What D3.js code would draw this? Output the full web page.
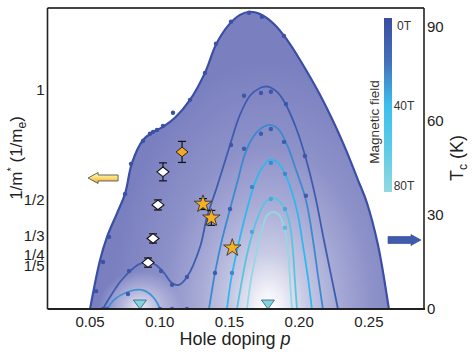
<!DOCTYPE html>
<html><head><meta charset="utf-8">
<script src="https://cdn.jsdelivr.net/npm/d3@7"></script>
<style>
body{margin:0;background:#fff}
svg{display:block;font-family:Arial,"Liberation Sans",Helvetica,sans-serif}
</style>
</head><body>
<svg id="chart" width="472" height="355"></svg>
<script>
// ---------------- data ----------------
const xTicks = [0.05, 0.10, 0.15, 0.20, 0.25];
const xTickLabels = ["0.05", "0.10", "0.15", "0.20", "0.25"];
const tcTicks = [0, 30, 60, 90];
const tcTickLabels = ["0", "30", "60", "90"];
const massTicks = [1/5, 1/4, 1/3, 1/2, 1];
const massTickLabels = ["1/5", "1/4", "1/3", "1/2", "1"];
const fieldLabels = ["0T", "40T", "80T"];
const fieldFractions = [0, 0.5, 1];

// Tc(p) domes, [p, Tc (K)]
const dome0T = [[0.0500,0],[0.0572,15.6],[0.0622,23.0],[0.0694,30.6],[0.0751,36.7],[0.0801,46.6],[0.0880,53.9],[0.0944,56.2],[0.1023,58.1],[0.1109,61.0],[0.1217,66.7],[0.1324,75.3],[0.1403,84.3],[0.1489,90.3],[0.1575,93.8],[0.1647,94.8],[0.1733,93.8],[0.1826,90.6],[0.1912,85.9],[0.2005,79.5],[0.2149,68.3],[0.2314,53.0],[0.2421,41.2],[0.2486,33.8],[0.2565,20.4],[0.2643,0]];
const dots0T = [[0.0543,5.7],[0.0593,15.0],[0.0636,23.0],[0.0751,36.7],[0.0794,46.3],[0.0880,53.6],[0.0930,55.9],[0.0952,56.5],[0.0980,57.1],[0.1023,58.4],[0.1095,62.6],[0.1217,66.7],[0.1324,75.3],[0.1403,84.6],[0.1511,91.6],[0.1640,94.5],[0.1733,93.2],[0.1891,87.1]];

const domeB = [[0.0593,0],[0.0643,3.8],[0.0715,8.6],[0.0787,12.1],[0.0858,14.4],[0.0916,15.0],[0.0973,14.0],[0.1030,11.5],[0.1088,8.3],[0.1138,7.7],[0.1195,10.2],[0.1289,19.8],[0.1339,29.4],[0.1410,38.9],[0.1504,52.3],[0.1575,61.9],[0.1647,68.0],[0.1719,70.5],[0.1776,70.9],[0.1848,68.9],[0.1912,64.5],[0.1977,57.8],[0.2041,49.1],[0.2113,36.4],[0.2177,22.0],[0.2228,10.9],[0.2278,0]];
const dotsB = [[0.0593,0],[0.0780,12.1],[0.1009,12.1],[0.1088,7.7],[0.1195,10.2],[0.1511,52.3],[0.1604,68.0],[0.1726,68.9],[0.1797,69.3],[0.1905,65.4],[0.2041,48.8]];

const domeCLeft = [[0.0622,0],[0.0679,3.2],[0.0751,5.1],[0.0823,6.1],[0.0873,6.1],[0.0930,4.8],[0.0973,2.6],[0.1002,0]];
const domeCRight = [[0.1353,0],[0.1375,6.1],[0.1396,11.5],[0.1446,22.0],[0.1504,31.9],[0.1561,41.2],[0.1604,48.5],[0.1661,54.3],[0.1733,57.8],[0.1790,58.7],[0.1855,57.1],[0.1919,51.7],[0.1977,44.4],[0.2048,34.8],[0.2099,22.0],[0.2134,10.9],[0.2170,0]];
const dotsC = [[0.0622,0],[0.0772,4.8],[0.1002,0],[0.1088,0],[0.1195,0],[0.1396,11.5],[0.1504,31.9],[0.1604,51.1],[0.1726,55.9],[0.1797,57.4],[0.1891,53.3],[0.2048,36.1]];

const domeD = [[0.1482,0],[0.1511,9.3],[0.1547,17.2],[0.1597,26.8],[0.1661,37.3],[0.1719,44.0],[0.1790,47.6],[0.1848,46.6],[0.1898,43.1],[0.1948,37.3],[0.1991,30.0],[0.2027,20.4],[0.2063,9.9],[0.2091,0]];
const dotsD = [[0.1661,38.9],[0.1518,11.5],[0.1797,46.6],[0.1898,43.1]];

const domeE = [[0.1554,0],[0.1590,9.3],[0.1625,17.2],[0.1668,24.6],[0.1719,31.0],[0.1761,34.2],[0.1805,35.4],[0.1855,34.5],[0.1898,31.9],[0.1934,26.8],[0.1955,18.8],[0.1969,9.3],[0.1984,0]];
const dotsE = [[0.1797,35.1],[0.1898,31.9],[0.1661,24.6]];

const domeF = [[0.1625,0],[0.1654,9.3],[0.1690,17.2],[0.1733,25.2],[0.1769,29.7],[0.1812,31.0],[0.1855,30.0],[0.1891,26.2],[0.1919,18.8],[0.1934,9.3],[0.1948,0]];
const dotsF = [[0.1898,25.9]];

// 1/m* markers
const diamondP = [0.0916, 0.0952, 0.0987, 0.1023];
const diamondV = [0.212, 0.322, 0.475, 0.626];
const diamondErr = [0.021, 0.021, 0.023, 0.041];
const orangeP = [0.116];
const orangeV = [0.717];
const orangeErr = [0.048];
const starP = [0.131, 0.137, 0.152];
const starV = [0.479, 0.416, 0.279];
const starErr = [0.025, 0.034, 0];
const triangleP = [0.0858, 0.1776];

// ---------------- layout ----------------
const svg = d3.select("#chart");
const L = 47.5, R = 424, T = 8, B = 309;
const x = d3.scaleLinear().domain([0.0195, 0.2895]).range([L, R]);
const yT = d3.scaleLinear().domain([0, 96]).range([B, T]);
const yM = d3.scaleLinear().domain([0, 1.374]).range([B, T]);

const defs = svg.append("defs");
// glow gradients
const gcx = x(0.178), gcy = yT(0) + 3;
const g1 = defs.append("radialGradient").attr("id","glow")
  .attr("gradientUnits","userSpaceOnUse").attr("cx",0).attr("cy",0).attr("r",1)
  .attr("gradientTransform",`translate(${gcx},${gcy}) scale(165,265)`);
[[0,1],[0.05,0.96],[0.23,0.58],[0.42,0.34],[0.62,0.15],[0.95,0]].forEach(s=>
  g1.append("stop").attr("offset",s[0]).attr("stop-color","#fff").attr("stop-opacity",s[1]));
const g2 = defs.append("radialGradient").attr("id","glow2")
  .attr("gradientUnits","userSpaceOnUse").attr("cx",0).attr("cy",0).attr("r",1)
  .attr("gradientTransform",`translate(${x(0.0858)},${yT(0)}) scale(42,38)`);
[[0,0.85],[0.4,0.45],[1,0]].forEach(s=>
  g2.append("stop").attr("offset",s[0]).attr("stop-color","#fff").attr("stop-opacity",s[1]));
// colorbar gradient
const cb = defs.append("linearGradient").attr("id","cbar").attr("x1",0).attr("y1",0).attr("x2",0).attr("y2",1);
[[0,"#3a4d9f"],[0.25,"#4470bb"],[0.5,"#3bbfee"],[0.75,"#5ccbe6"],[1,"#93d8e2"]].forEach(s=>
  cb.append("stop").attr("offset",s[0]).attr("stop-color",s[1]));
// yellow arrow gradient
const ya = defs.append("linearGradient").attr("id","yarrow").attr("x1",0).attr("y1",0).attr("x2",0).attr("y2",1);
[[0,"#fff6c8"],[0.45,"#fde07a"],[1,"#eda52a"]].forEach(s=>
  ya.append("stop").attr("offset",s[0]).attr("stop-color",s[1]));
defs.append("clipPath").attr("id","plotclip").append("rect").attr("x",L).attr("y",T).attr("width",R-L).attr("height",B-T);

const line = d3.line().x(d=>x(d[0])).y(d=>yT(d[1])).curve(d3.curveCatmullRom.alpha(0.5));

const plot = svg.append("g").attr("clip-path","url(#plotclip)");
const domePath = line(dome0T) + "Z";
plot.append("path").attr("d",domePath).attr("fill","#7a7fc0");
plot.append("path").attr("d",domePath).attr("fill","url(#glow)");
plot.append("path").attr("d",domePath).attr("fill","url(#glow2)");

const curves = [
  {d:dome0T, c:"#3a4ea5", w:2.2},
  {d:domeB, c:"#3d5caf", w:1.8},
  {d:domeCLeft, c:"#4291d4", w:1.8},
  {d:domeCRight, c:"#3b8ad0", w:1.8},
  {d:domeD, c:"#2fb8ee", w:1.8},
  {d:domeE, c:"#58c5e0", w:1.8},
  {d:domeF, c:"#93d8e2", w:1.8}
];
curves.forEach(k=>plot.append("path").attr("d",line(k.d)).attr("fill","none")
  .attr("stroke",k.c).attr("stroke-width",k.w));

const dotSets = [
  {d:dots0T, c:"#3b50a6"},{d:dotsB, c:"#3d56aa"},{d:dotsC, c:"#3d5cae"},
  {d:dotsD, c:"#3f86cc"},{d:dotsE, c:"#4aa6d6"},{d:dotsF, c:"#5ab8dc"}
];
dotSets.forEach(s=>plot.selectAll(null).data(s.d).enter().append("circle")
  .attr("cx",d=>x(d[0])).attr("cy",d=>yT(d[1])).attr("r",2.2).attr("fill",s.c));

// triangles
svg.selectAll(null).data(triangleP).enter().append("path")
  .attr("d",p=>{const cx=x(p), cy=yT(0); return `M${cx-6.5},${cy-9}L${cx+6.5},${cy-9}L${cx},${cy}Z`;})
  .attr("fill","#84d4de").attr("stroke","#2d5a78").attr("stroke-width",0.8);

// error bars helper
function errBar(px, v, e){
  if(!e) return;
  const cx = x(px), y1 = yM(v+e), y2 = yM(v-e);
  const g = svg.append("g").attr("stroke","#111").attr("stroke-width",1.2);
  g.append("line").attr("x1",cx).attr("x2",cx).attr("y1",y1).attr("y2",y2);
  g.append("line").attr("x1",cx-4).attr("x2",cx+4).attr("y1",y1).attr("y2",y1);
  g.append("line").attr("x1",cx-4).attr("x2",cx+4).attr("y1",y2).attr("y2",y2);
}
const diamond = (cx,cy)=>`M${cx-6},${cy}L${cx},${cy-4.8}L${cx+6},${cy}L${cx},${cy+4.8}Z`;
diamondP.forEach((p,i)=>{
  errBar(p, diamondV[i], diamondErr[i]);
  svg.append("path").attr("d",diamond(x(p),yM(diamondV[i]))).attr("fill","#fff").attr("stroke","#111").attr("stroke-width",1.1);
});
orangeP.forEach((p,i)=>{
  errBar(p, orangeV[i], orangeErr[i]);
  svg.append("path").attr("d",diamond(x(p),yM(orangeV[i]))).attr("fill","#f6a81e").attr("stroke","#222").attr("stroke-width",1);
});
starP.forEach((p,i)=>{
  errBar(p, starV[i], starErr[i]);
  svg.append("path").attr("d",d3.symbol(d3.symbolStar).size(95)())
    .attr("transform",`translate(${x(p)},${yM(starV[i])})`)
    .attr("fill","#f8b021").attr("stroke","#333").attr("stroke-width",0.9);
});

// frame
const frame = svg.append("g").attr("fill","none");
frame.append("line").attr("x1",L).attr("x2",R).attr("y1",T).attr("y2",T).attr("stroke","#444").attr("stroke-width",2);
frame.append("line").attr("x1",L).attr("x2",L).attr("y1",T).attr("y2",B).attr("stroke","#222").attr("stroke-width",1.6);
frame.append("line").attr("x1",R).attr("x2",R).attr("y1",T).attr("y2",B).attr("stroke","#222").attr("stroke-width",1.6);
frame.append("line").attr("x1",L).attr("x2",R+1).attr("y1",B).attr("y2",B).attr("stroke","#222").attr("stroke-width",2);

// tick labels
const txt = svg.append("g").attr("fill","#222").attr("font-size",15);
txt.selectAll(null).data(xTicks).enter().append("text")
  .attr("x",d=>x(d)).attr("y",327).attr("text-anchor","middle").text((d,i)=>xTickLabels[i]);
txt.selectAll(null).data(tcTicks).enter().append("text")
  .attr("x",R+3).attr("y",d=>yT(d)).attr("dy","0.36em").text((d,i)=>tcTickLabels[i]);
txt.selectAll(null).data(massTicks).enter().append("text")
  .attr("x",L-3).attr("y",d=>yM(d)).attr("dy","0.36em").attr("text-anchor","end").text((d,i)=>massTickLabels[i]);

// axis titles
const xt = svg.append("text").attr("x",235).attr("y",345).attr("text-anchor","middle")
  .attr("font-size",18).attr("fill","#222");
xt.append("tspan").text("Hole doping ");
xt.append("tspan").attr("font-style","italic").text("p");

const ylt = svg.append("text").attr("transform","translate(22,158) rotate(-90)")
  .attr("text-anchor","middle").attr("font-size",17).attr("fill","#222");
ylt.append("tspan").text("1/m");
ylt.append("tspan").attr("font-size",11).attr("dy",-7).text("*");
ylt.append("tspan").attr("dy",7).text(" (1/m");
ylt.append("tspan").attr("font-size",12).attr("dy",4).text("e");
ylt.append("tspan").attr("dy",-4).text(")");

const yrt = svg.append("text").attr("transform","translate(463,158) rotate(-90)")
  .attr("text-anchor","middle").attr("font-size",18).attr("fill","#222");
yrt.append("tspan").text("T");
yrt.append("tspan").attr("font-size",12).attr("dy",4).text("c");
yrt.append("tspan").attr("dy",-4).text(" (K)");

// colorbar
const cbX = 384, cbW = 8, cbT = 18, cbB = 192;
svg.append("rect").attr("x",cbX).attr("y",cbT).attr("width",cbW).attr("height",cbB-cbT).attr("fill","url(#cbar)");
svg.selectAll(null).data(fieldLabels).enter().append("text")
  .attr("x",404).attr("y",(d,i)=>cbT+8+fieldFractions[i]*(cbB-cbT-14)).attr("dy","0.35em")
  .attr("text-anchor","middle").attr("font-size",12).attr("fill","#333").text(d=>d);
svg.append("text").attr("transform",`translate(379,${(cbT+cbB)/2+17}) rotate(-90)`)
  .attr("text-anchor","middle").attr("font-size",13.5).attr("fill","#333").text("Magnetic field");

// arrows
const ytip = [x(0.0486), yM(0.598)];
svg.append("path").attr("d",`M${ytip[0]},${ytip[1]}L${ytip[0]+10},${ytip[1]-5.5}L${ytip[0]+10},${ytip[1]-3}L${ytip[0]+30},${ytip[1]-3}L${ytip[0]+30},${ytip[1]+3}L${ytip[0]+10},${ytip[1]+3}L${ytip[0]+10},${ytip[1]+5.5}Z`)
  .attr("fill","url(#yarrow)").attr("stroke","#555").attr("stroke-width",0.9);
const btip = [R-3, yT(22)];
svg.append("path").attr("d",`M${btip[0]},${btip[1]}L${btip[0]-10},${btip[1]-5.5}L${btip[0]-10},${btip[1]-3.5}L${btip[0]-33},${btip[1]-3.5}L${btip[0]-33},${btip[1]+3.5}L${btip[0]-10},${btip[1]+3.5}L${btip[0]-10},${btip[1]+5.5}Z`)
  .attr("fill","#3f5bab").attr("stroke","#2c428f").attr("stroke-width",0.6);
</script>
</body></html>
